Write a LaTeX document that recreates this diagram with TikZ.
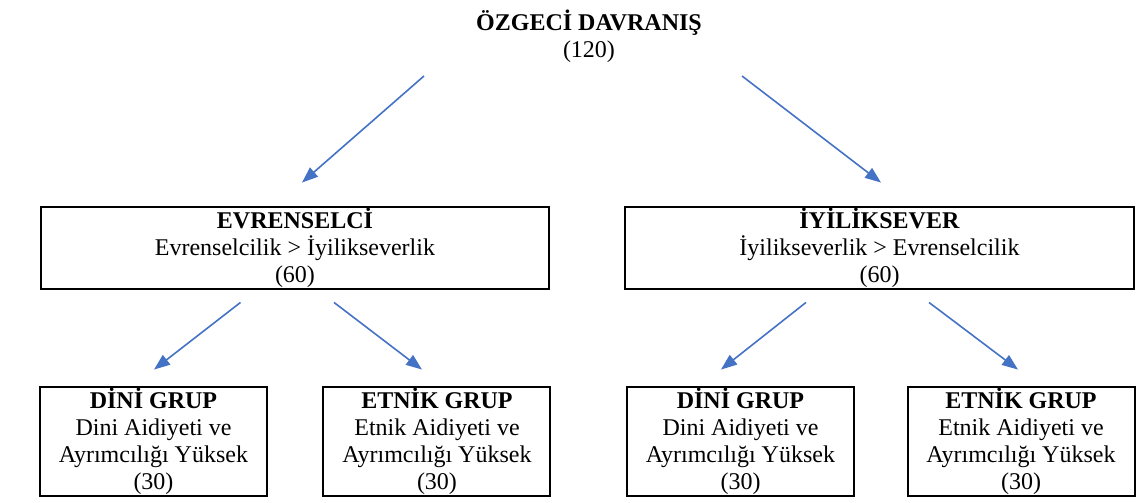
\documentclass[tikz,border=0pt]{standalone}
\usepackage{fontspec}
\setmainfont{Liberation Serif}
\usetikzlibrary{arrows.meta, positioning}
\definecolor{arrowblue}{RGB}{68,114,196}
\tikzstyle{title} = [
    inner sep=0pt,
    align=center,
    font=\fontsize{12}{13.5}\selectfont
]
\tikzstyle{category} = [
    rectangle,
    minimum width=254pt,
    inner ysep=0.8pt,
    align=center,
    draw=black,
    line width=1pt,
    font=\fontsize{12}{13.5}\selectfont
]
\tikzstyle{group} = [
    rectangle,
    minimum width=113.5pt,
    inner xsep=2pt,
    inner ysep=0.8pt,
    align=center,
    draw=black,
    line width=1pt,
    font=\fontsize{12}{13.5}\selectfont
]
\tikzstyle{arrow} = [line width=0.8pt, draw=arrowblue, -{Triangle[length=8pt,width=6pt]}]

\begin{document}
\begin{tikzpicture}[node distance=106pt]
\useasboundingbox (-294.5pt,18pt) rectangle (276pt,-233.5pt);

% Nodes
\node (root) [title] at (0,0) {\textbf{ÖZGECİ DAVRANIŞ}\\(120)};
\node (evrensel) [category, below of=root, xshift=-147pt] {\textbf{EVRENSELCİ}\\Evrenselcilik > İyilikseverlik\\(60)};
\node (iyilik) [category, below of=root, xshift=145.25pt] {\textbf{İYİLİKSEVER}\\İyilikseverlik > Evrenselcilik\\(60)};
\node (dini1) [group, below of=evrensel, xshift=-70.75pt, yshift=9.25pt] {\textbf{DİNİ GRUP}\\Dini Aidiyeti ve\\Ayrımcılığı Yüksek\\(30)};
\node (etnik1) [group, below of=evrensel, xshift=71pt, yshift=9.25pt] {\textbf{ETNİK GRUP}\\Etnik Aidiyeti ve\\Ayrımcılığı Yüksek\\(30)};
\node (dini2) [group, below of=iyilik, xshift=-69.5pt, yshift=9.25pt] {\textbf{DİNİ GRUP}\\Dini Aidiyeti ve\\Ayrımcılığı Yüksek\\(30)};
\node (etnik2) [group, below of=iyilik, xshift=70.75pt, yshift=9.25pt] {\textbf{ETNİK GRUP}\\Etnik Aidiyeti ve\\Ayrımcılığı Yüksek\\(30)};

% Arrows
\draw [arrow] ([shift={(-82.5pt,-20pt)}]root.center) -- ([shift={(3.5pt,11.5pt)}]evrensel.north);
\draw [arrow] ([shift={(76.5pt,-20pt)}]root.center) -- ([shift={(0.75pt,11.5pt)}]iyilik.north);
\draw [arrow] ([shift={(-27.25pt,-6pt)}]evrensel.south) -- ([shift={(0.25pt,8pt)}]dini1.north);
\draw [arrow] ([shift={(19.5pt,-6pt)}]evrensel.south) -- ([shift={(-7.5pt,8pt)}]etnik1.north);
\draw [arrow] ([shift={(-36.75pt,-6pt)}]iyilik.south) -- ([shift={(-9.75pt,8pt)}]dini2.north);
\draw [arrow] ([shift={(24.75pt,-6pt)}]iyilik.south) -- ([shift={(-1.5pt,8pt)}]etnik2.north);

\end{tikzpicture}
\end{document}
